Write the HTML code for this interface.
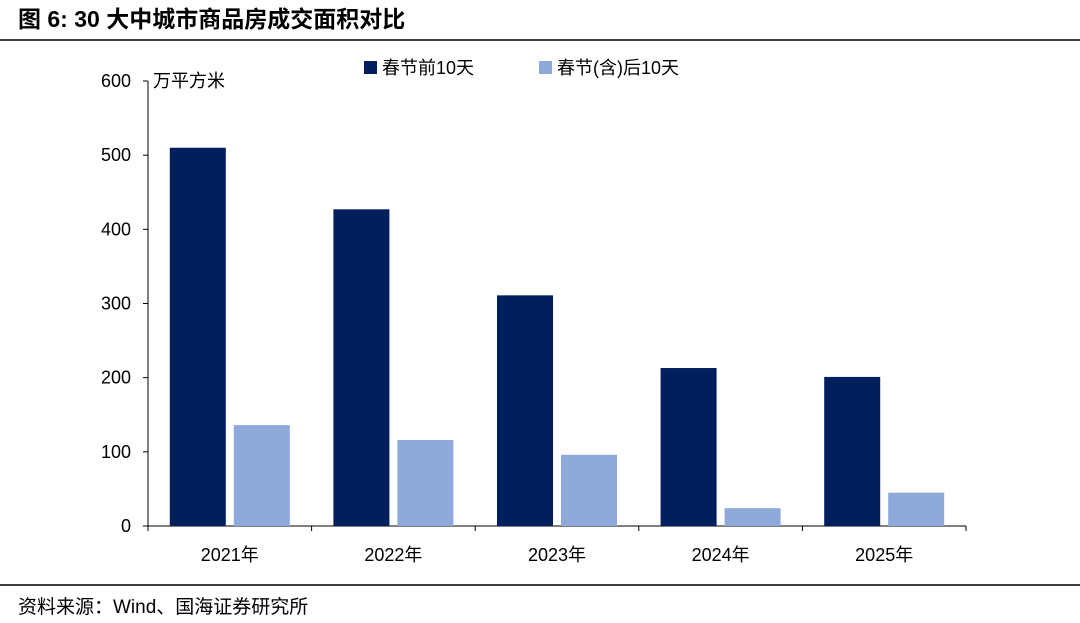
<!DOCTYPE html>
<html><head><meta charset="utf-8">
<style>
body{margin:0;background:#fff;width:1080px;height:618px;overflow:hidden;font-family:"Liberation Sans","Noto Sans CJK SC",sans-serif;}
</style></head>
<body>
<svg width="1080" height="618" xmlns="http://www.w3.org/2000/svg" font-family="Liberation Sans, Noto Sans CJK SC, sans-serif">
<text x="18" y="27" font-size="23" font-weight="bold" fill="#000">图 6:  30 大中城市商品房成交面积对比</text>
<line x1="0" y1="40" x2="1080" y2="40" stroke="#000" stroke-width="1.5"/>
<g id="plot"></g>
<line x1="0" y1="585" x2="1080" y2="585" stroke="#000" stroke-width="1.5"/>
<text x="18" y="613" font-size="19" fill="#000">资料来源：Wind、国海证券研究所</text>
</svg>
<script>
const categories=["2021年","2022年","2023年","2024年","2025年"];
const before=[510,427,311,213,201];
const after=[136,116,96,24,45];
const yTicks=[0,100,200,300,400,500,600];
const seriesNames=["春节前10天","春节(含)后10天"];
const colors=["#001f5c","#8eaadb"];
const NS="http://www.w3.org/2000/svg";
const g=document.getElementById("plot");
const x0=148,x1=966,y0=526,yTop=81,yMax=600;
const y=v=>y0-(v/yMax)*(y0-yTop);
const bw=(x1-x0)/categories.length;
function mk(t,a,txt){const e=document.createElementNS(NS,t);for(const k in a)e.setAttribute(k,a[k]);if(txt!==undefined)e.textContent=txt;g.appendChild(e);return e;}
let e;
e=mk("line",{x1:x0,y1:yTop,x2:x0,y2:y0,stroke:"#000","stroke-width":1});


e=mk("line",{x1:x0,y1:y0,x2:x1,y2:y0,stroke:"#000","stroke-width":1});


yTicks.forEach(t=>{
 e=mk("line",{x1:x0-5,y1:y(t),x2:x0,y2:y(t),stroke:"#000"});
 
 
 e=mk("text",{x:131,y:y(t)+6,"text-anchor":"end","font-size":18,fill:"#000"},t);
 
 
});
e=mk("text",{x:153,y:87,"font-size":18,fill:"#000"},"万平方米");


for(let i=0;i<=categories.length;i++){
 e=mk("line",{x1:x0+i*bw,y1:y0,x2:x0+i*bw,y2:y0+5,stroke:"#000"});
 
 
}
const barW=56,gap=8;
categories.forEach((c,i)=>{
 const cx=x0+bw*(i+0.5);
 e=mk("rect",{x:cx-gap/2-barW,y:y(before[i]),width:barW,height:y0-y(before[i]),fill:colors[0]});
 
 
 e=mk("rect",{x:cx+gap/2,y:y(after[i]),width:barW,height:y0-y(after[i]),fill:colors[1]});
 
 
 e=mk("text",{x:cx,y:561,"text-anchor":"middle","font-size":18,fill:"#000"},c);
 
 
});
const lx=[364,539];
seriesNames.forEach((s,i)=>{
 e=mk("rect",{x:lx[i],y:61,width:13,height:13,fill:colors[i]});
 
 
 e=mk("text",{x:lx[i]+18,y:74,"font-size":18,fill:"#000"},s);
 
 
});
</script>
</body></html>
